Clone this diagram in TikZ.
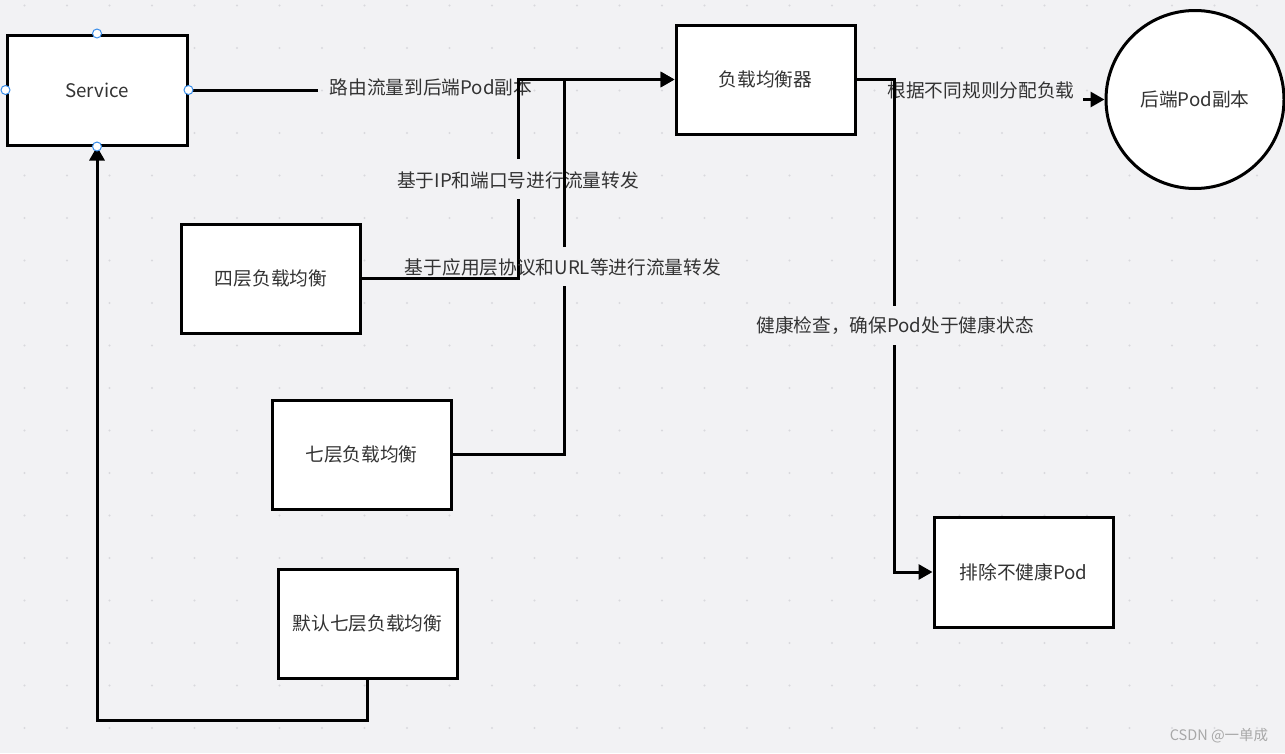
\documentclass[tikz,border=0pt]{standalone}
\usepackage{fontspec}
\newfontfamily\cjk{Noto Sans CJK SC}
\usetikzlibrary{arrows.meta}
\definecolor{bgc}{HTML}{F2F2F4}
\definecolor{dotc}{HTML}{D9D9DD}
\definecolor{txtc}{HTML}{333333}
\definecolor{handlec}{HTML}{3A8EEA}
\definecolor{wmc}{HTML}{A8A8A8}
\tikzset{
  box/.style={draw=black, line width=3pt, fill=white, rectangle, inner sep=0pt,
    minimum width=179pt, minimum height=109pt, text=txtc, font=\cjk\fontsize{18.7}{22}\selectfont},
  roundbox/.style={draw=black, line width=3pt, fill=white, circle, inner sep=0pt,
    minimum size=178pt, text=txtc, font=\cjk\fontsize{18.7}{22}\selectfont},
  conn/.style={draw=black, line width=3pt},
  arr/.style={conn, -{Triangle[length=14pt, width=15pt]}},
  lbl/.style={text=txtc, inner sep=0pt, font=\cjk\fontsize{18.7}{22}\selectfont},
  handle/.style={draw=handlec, fill=white, line width=1pt, circle, inner sep=0pt, minimum size=9pt},
}
\begin{document}
\begin{tikzpicture}[x=1pt, y=-1pt]
\useasboundingbox (0,0) rectangle (1285,753);
\fill[bgc] (0,0) rectangle (1285,753);
\foreach \i in {0,...,29}{
  \foreach \j in {0,...,17}{
    \fill[dotc] ({24.5+42.5*\i},{5.5+42.5*\j}) circle (1.2pt);
  }
}
% nodes
\node[box, minimum width=180pt, minimum height=110pt] (svc) at (97,90) {Service};
\node[box] (lb) at (765.5,79.5) {负载均衡器};
\node[roundbox] (pod) at (1195,99.5) {后端Pod副本};
\node[box] (l4) at (271,278.5) {四层负载均衡};
\node[box] (l7) at (361.5,454.5) {七层负载均衡};
\node[box] (def) at (367.5,623.5) {默认七层负载均衡};
\node[box, minimum height=110pt] (ex) at (1023.5,572) {排除不健康Pod};

% bend / gap coordinates
\coordinate (s1) at (318,90);
\coordinate (k4a) at (518,199);
\coordinate (k4b) at (518,159);
\coordinate (k7a) at (564,286);
\coordinate (k7b) at (564,247);
\coordinate (k5) at (1083,99.5);
\coordinate (kh1) at (894,306);
\coordinate (kh2) at (894,345);
\coordinate (kb) at (367.5,720);

% connectors
\draw[conn] (svc.east) -- (s1);
\node[lbl] (t1) at (431,87) {路由流量到后端Pod副本};

\draw[conn] (l4.east) -| (k4a);
\draw[arr] (k4b) |- (lb.west);
\node[lbl] (t2) at (518,180) {基于IP和端口号进行流量转发};

\draw[conn] (l7.east) -| (k7a);
\draw[arr] (k7b) |- (lb.west);
\node[lbl] (t3) at (563,267) {基于应用层协议和URL等进行流量转发};

\draw[arr] (def.south) -- (kb) -| (svc.south);

\node[lbl] (t4) at (981,90) {根据不同规则分配负载};
\draw[arr] (k5) -- (pod.west);

\draw[conn] (lb.east) -| (kh1);
\draw[arr] (kh2) |- (ex.west);
\node[lbl] (t5) at (895,326) {健康检查，确保Pod处于健康状态};

% selection handles on Service
\node[handle] (h1) at (svc.north) {};
\node[handle] (h2) at (svc.west) {};
\node[handle] (h3) at (svc.east) {};
\node[handle] (h4) at (svc.south) {};

% watermark
\node[text=wmc, inner sep=0pt, font=\cjk\fontsize{14.5}{16}\selectfont] (wm) at (1219,736) {CSDN @一单成};
\end{tikzpicture}
\end{document}
